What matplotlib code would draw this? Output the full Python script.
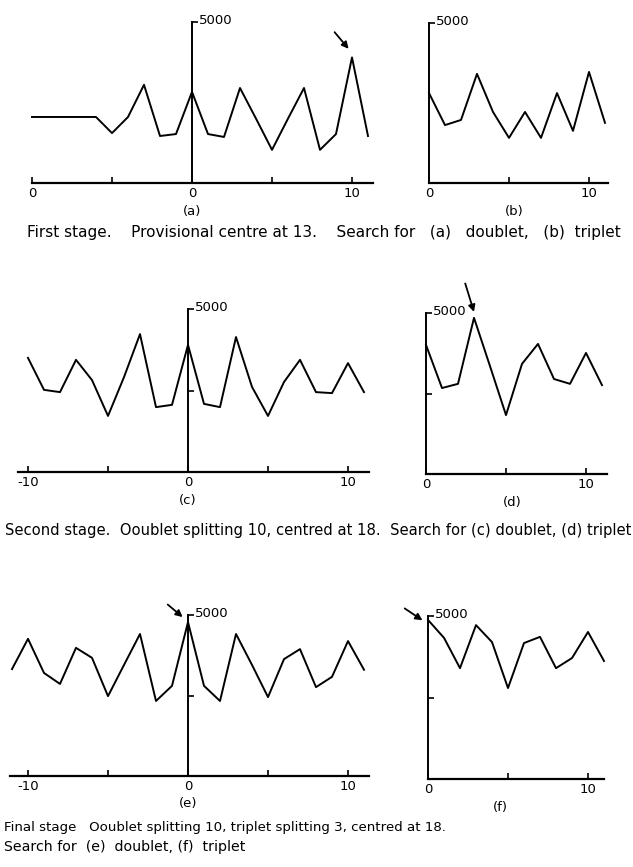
import numpy as np
import matplotlib.pyplot as plt

W, H = 633, 867

# values (0 .. 5000 scale)
x_a = np.arange(-10, 12)
y_a = [2050, 2050, 2050, 2050, 2050, 1550, 2050, 3050, 1460, 1520, 2830,
       1520, 1430, 2950, 2000, 1030, 2000, 2950, 1030, 1520, 3900, 1460]

x_b = np.arange(0, 12)
y_b = [2810, 1810, 1970, 3410, 2220, 1410, 2220, 1410, 2810, 1630, 3470, 1880]

x_c = np.arange(-10, 12)
y_c = [3500, 2520, 2450, 3440, 2820, 1720, 2910, 4230, 1990, 2060, 3900,
       2090, 1990, 4140, 2610, 1720, 2760, 3440, 2450, 2420, 3340, 2450]

x_d = np.arange(0, 12)
y_d = [4010, 2670, 2800, 4850, 3350, 1830, 3420, 4040, 2950, 2800, 3760, 2760]

x_e = np.arange(-11, 12)
y_e = [3320, 4260, 3200, 2860, 3980, 3670, 2480, 3450, 4410, 2330, 2800, 4780,
       2800, 2330, 4410, 3450, 2450, 3630, 3940, 2760, 3080, 4190, 3300]

x_f = np.arange(0, 12)
y_f = [4880, 4330, 3400, 4720, 4200, 2790, 4170, 4360, 3400, 3710, 4510, 3620]

captions = [
    "First stage.    Provisional centre at 13.    Search for   (a)   doublet,   (b)  triplet",
    "Second stage.  Ooublet splitting 10, centred at 18.  Search for (c) doublet, (d) triplet",
    "Final stage   Ooublet splitting 10, triplet splitting 3, centred at 18.",
    "Search for  (e)  doublet, (f)  triplet",
]

fnt = "DejaVu Sans"
fig = plt.figure(figsize=(W / 100, H / 100), dpi=100)


def panel(x, y, x0px, top, bot, xlo, xhi, ticks, labels, name, namex, mid=True):
    # 16 px per unit on x, x0px = pixel column of x=0
    left = x0px + xlo * 16
    right = x0px + xhi * 16
    ax = fig.add_axes([left / W, 1 - bot / H, (right - left) / W, (bot - top) / H])
    ax.plot(x, y, color="k", lw=1.4, clip_on=False)
    ax.set_xlim(xlo, xhi)
    ax.set_ylim(0, 5000)
    for s in ["top", "right"]:
        ax.spines[s].set_visible(False)
    ax.spines["left"].set_position(("data", 0))
    ax.spines["left"].set_linewidth(1.4)
    ax.spines["bottom"].set_linewidth(1.6)
    ax.set_xticks(ticks)
    ax.set_xticklabels(labels, fontsize=9.5, family=fnt)
    ax.tick_params(axis="x", direction="in", length=4, width=1.2, pad=3)
    ax.set_yticks([2500, 5000] if mid else [5000])
    ax.tick_params(axis="y", direction="in", length=4, width=1.2, labelleft=False)
    ax.annotate("5000", xy=(0, 5000), xytext=(5, 1), textcoords="offset points",
                ha="left", va="center", fontsize=9.5, family=fnt)
    ax.text(namex, -28 / (bot - top), name, transform=ax.get_xaxis_transform(),
            ha="center", va="center", fontsize=9.5, family=fnt)
    return ax


ax_a = panel(x_a, y_a, 192, 22, 183, -10, 11.3, [-10, -5, 0, 5, 10],
             ["0", "", "0", "", "10"], "(a)", 0, mid=False)
ax_b = panel(x_b, y_b, 429, 23, 183, 0, 11.2, [0, 5, 10], ["0", "", "10"],
             "(b)", 5.3, mid=False)
ax_c = panel(x_c, y_c, 188, 309, 472, -10.6, 11.3, [-10, -5, 0, 5, 10],
             ["-10", "", "0", "", "10"], "(c)", 0)
ax_d = panel(x_d, y_d, 426, 313, 474, 0, 11.3, [0, 5, 10], ["0", "", "10"],
             "(d)", 5.4)
ax_e = panel(x_e, y_e, 188, 615, 776, -11.1, 11.3, [-10, -5, 0, 5, 10],
             ["-10", "", "0", "", "10"], "(e)", 0)
ax_f = panel(x_f, y_f, 428, 616, 779, 0, 11, [0, 5, 10], ["0", "", "10"],
             "(f)", 4.5)

arrow = dict(arrowstyle="-|>", color="k", lw=1.3, mutation_scale=10)
ax_a.annotate("", xy=(9.9, 4100), xytext=(8.8, 4750), arrowprops=arrow, annotation_clip=False)
ax_d.annotate("", xy=(3.05, 4950), xytext=(2.4, 6000), arrowprops=arrow, annotation_clip=False)
ax_e.annotate("", xy=(-0.2, 4880), xytext=(-1.4, 5380), arrowprops=arrow, annotation_clip=False)
ax_f.annotate("", xy=(-0.2, 4820), xytext=(-1.6, 5280), arrowprops=arrow, annotation_clip=False)

# caption lines: (left px, centre y px, right px)
cap_pos = [(27, 232, 620), (5, 531, 628), (4, 828, 445), (4, 847, 244)]
rend = fig.canvas.get_renderer()
for txt, (x0, yc, x1) in zip(captions, cap_pos):
    t = fig.text(x0 / W, 1 - yc / H, txt, ha="left", va="center", fontsize=9, family=fnt)
    wpx = t.get_window_extent(rend).width
    t.set_fontsize(9 * (x1 - x0) / wpx)

fig.savefig("out.png", dpi=100)
